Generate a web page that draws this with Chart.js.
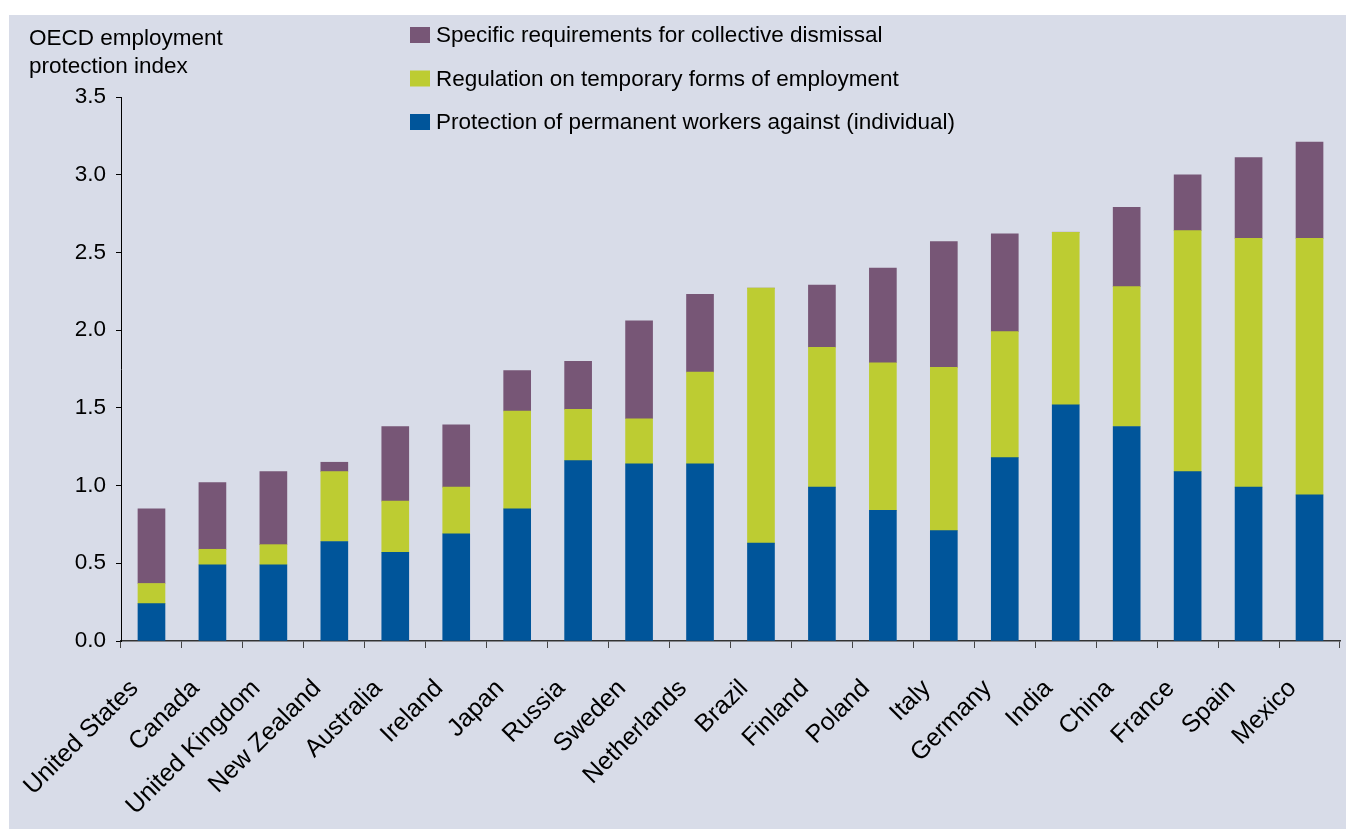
<!DOCTYPE html>
<html>
<head>
<meta charset="utf-8">
<script src="https://cdn.jsdelivr.net/npm/chart.js@4/dist/chart.umd.min.js"></script>
<style>
  body { margin: 0; background: #ffffff; }
  canvas { display: block; }
</style>
</head>
<body>
<canvas id="eplChart" width="1346" height="829"></canvas>
<script>
const countries = ["United States", "Canada", "United Kingdom", "New Zealand", "Australia", "Ireland",
    "Japan", "Russia", "Sweden", "Netherlands", "Brazil", "Finland", "Poland", "Italy", "Germany",
    "India", "China", "France", "Spain", "Mexico"];

const permanent = [0.24, 0.49, 0.49, 0.64, 0.57, 0.69, 0.85, 1.16, 1.14, 1.14, 0.63, 0.99, 0.84, 0.71, 1.18, 1.52, 1.38, 1.09, 0.99, 0.94];
const temporary = [0.13, 0.10, 0.13, 0.45, 0.33, 0.30, 0.63, 0.33, 0.29, 0.59, 1.64, 0.90, 0.95, 1.05, 0.81, 1.11, 0.90, 1.55, 1.60, 1.65];
const collective = [0.48, 0.43, 0.47, 0.06, 0.48, 0.40, 0.26, 0.31, 0.63, 0.50, 0.00, 0.40, 0.61, 0.81, 0.63, 0.00, 0.51, 0.36, 0.52, 0.62];

const seriesNames = ["Protection of permanent workers against (individual)",
    "Regulation on temporary forms of employment",
    "Specific requirements for collective dismissal"];
const yTicks = [0, 0.5, 1.0, 1.5, 2.0, 2.5, 3.0, 3.5];
const yTitle = ["OECD employment", "protection index"];

const colors = ["#00559a", "#bdcc32", "#775676"];
const bgColor = "#d8dce8";
const font = "'Liberation Sans', Arial, sans-serif";
const fontSize = 22.5;

// panel background + y title + legend drawn by hand
const decorations = {
    id: "decorations",
    beforeDraw(chart) {
        const ctx = chart.ctx;
        ctx.save();
        ctx.fillStyle = "#ffffff";
        ctx.fillRect(0, 0, chart.width, chart.height);
        ctx.fillStyle = bgColor;
        ctx.fillRect(9, 15, chart.width - 9, chart.height - 15);
        ctx.restore();
    },
    afterDraw(chart) {
        const ctx = chart.ctx;
        ctx.save();
        ctx.fillStyle = "#000";
        ctx.font = fontSize + "px " + font;
        ctx.textBaseline = "alphabetic";
        ctx.fillText(yTitle[0], 29, 45);
        ctx.fillText(yTitle[1], 29, 73);

        const sets = chart.data.datasets.slice().reverse();
        sets.forEach((ds, i) => {
            const y = 27 + i * 43.5;
            ctx.fillStyle = ds.backgroundColor;
            ctx.fillRect(410, y, 20, 16);
            ctx.fillStyle = "#000";
            ctx.fillText(ds.label, 436, y + 15);
        });
        ctx.restore();
    }
};

const data = {
    labels: countries,
    datasets: [
        { label: seriesNames[0], data: permanent, backgroundColor: colors[0] },
        { label: seriesNames[1], data: temporary, backgroundColor: colors[1] },
        { label: seriesNames[2], data: collective, backgroundColor: colors[2] },
    ],
};

const options = {
    responsive: false,
    animation: false,
    layout: { padding: { top: 97, right: 6, left: 0, bottom: 0 } },
    datasets: { bar: { barThickness: 27 } },
    plugins: { legend: { display: false }, tooltip: { enabled: false } },
    scales: {
        x: {
            stacked: true,
            afterFit: (s) => { s.height = 188; s.paddingLeft = 0; s.paddingRight = 0; },
            grid: { drawOnChartArea: false, offset: true, tickLength: 7, color: "#444" },
            border: { color: "#333", width: 1.5 },
            ticks: {
                minRotation: 45, maxRotation: 45, color: "#000", padding: 26, labelOffset: -17,
                font: { family: font, size: 25 },
            },
        },
        y: {
            stacked: true,
            min: 0, max: 3.5,
            afterFit: (s) => { s.width = 121; },
            afterBuildTicks: (s) => { s.ticks = yTicks.map(v => ({ value: v })); },
            grid: { drawOnChartArea: false, tickLength: 5, color: "#000" },
            border: { color: "#000", width: 1 },
            ticks: {
                color: "#000", padding: 10,
                font: { family: font, size: fontSize },
                callback: (v) => v.toFixed(1),
            },
        },
    },
};

new Chart("eplChart", { type: "bar", data, options, plugins: [decorations] });
</script>
</body>
</html>
